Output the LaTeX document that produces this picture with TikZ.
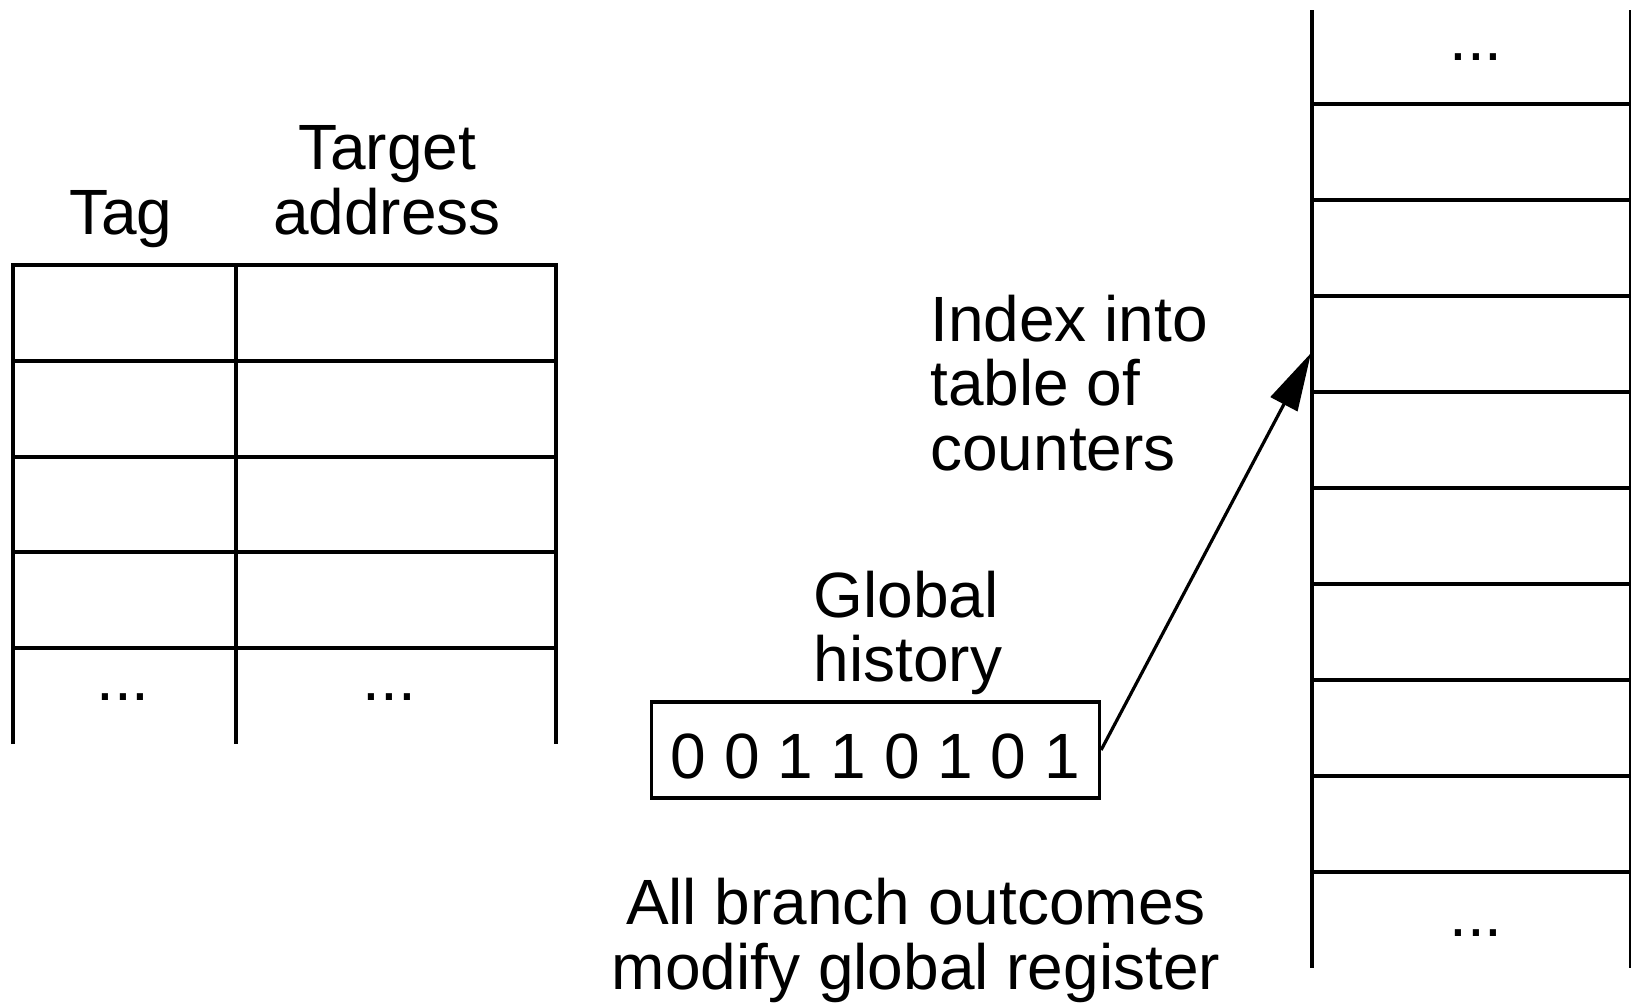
\documentclass[tikz,border=0pt]{standalone}
\usepackage{fontspec}
\setmainfont{Liberation Sans}
\usetikzlibrary{arrows.meta}
\tikzset{
  every node/.style={inner sep=0pt, font=\fontsize{32}{32.25}\selectfont},
  gridline/.style={line width=1.8pt},
  regbox/.style={draw, line width=1.7pt, minimum width=224pt, minimum height=48pt,
                 text height=28pt, text depth=0pt},
  ptr/.style={line width=1.6pt, -{Triangle[length=29pt,width=15pt]}}
}
\begin{document}
\begin{tikzpicture}[x=0.5pt,y=-0.5pt]
\useasboundingbox (0,0) rectangle (1631,1002);

% branch target buffer: tag / target address columns
\draw[gridline] (12.7,744) -- (12.7,265) -- (556,265) -- (556,744);
\draw[gridline] (236,265) -- (236,744);
\foreach \y in {361,457,552,648} \draw[gridline] (12.7,\y) -- (556,\y);
\node[anchor=base] (tag) at (120.7,234) {Tag};
\node[anchor=base, align=center] (target) at (387,234) {Target\\address};
\node[anchor=base] (dotsA) at (123,700) {...};
\node[anchor=base] (dotsB) at (389.6,700) {...};

% table of counters
\draw[gridline] (1312,10) -- (1312,968);
\draw[gridline] (1631,10) -- (1631,968);
\foreach \y in {104,200,296,392,488,584,680,776,872} \draw[gridline] (1312,\y) -- (1631,\y);
\node[anchor=base] (dotsC) at (1476,60) {...};
\node[anchor=base] (dotsD) at (1476,936) {...};

% labels (base anchor sits on the last line)
\node[anchor=base west, align=left] (index) at (930,470) {Index into\\table of\\counters};
\node[anchor=base west, align=left] (global) at (813.4,681.5) {Global\\history};
\node[anchor=base, align=center] (note) at (916,989) {All branch outcomes\\modify global register};

% global history register and its index pointer
\node[regbox, anchor=base] (hist) at (875.4,778) {0 0 1 1 0 1 0 1};
\coordinate (idx) at (1311,353);
\draw[ptr] (hist.east) -- (idx);
\end{tikzpicture}
\end{document}
